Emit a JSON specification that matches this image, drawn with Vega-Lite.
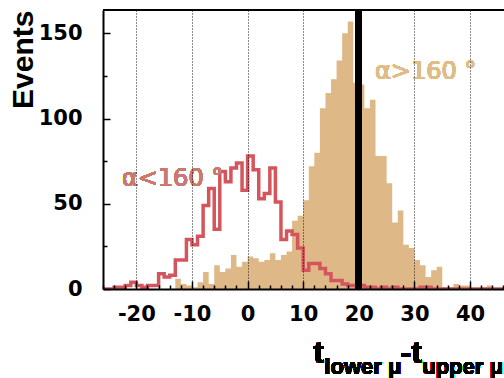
{
  "$schema": "https://vega.github.io/schema/vega-lite/v6.json",
  "width": 401,
  "height": 279,
  "autosize": {"type": "none"},
  "padding": {"left": 103, "top": 10, "right": 0, "bottom": 89},
  "background": "white",
  "config": {"view": {"stroke": null}},
  "resolve": {"axis": {"x": "independent", "y": "independent"}},
  "data": {"values": [
    {"t": -26, "tan": 0, "red": 0}, {"t": -25, "tan": 0, "red": 0}, {"t": -24, "tan": 0, "red": 1}, {"t": -23, "tan": 0, "red": 1},
    {"t": -22, "tan": 0, "red": 2}, {"t": -21, "tan": 0, "red": 4}, {"t": -20, "tan": 0, "red": 2}, {"t": -19, "tan": 0, "red": 1},
    {"t": -18, "tan": 0, "red": 2}, {"t": -17, "tan": 0, "red": 2}, {"t": -16, "tan": 0, "red": 9}, {"t": -15, "tan": 0, "red": 7},
    {"t": -14, "tan": 0, "red": 8}, {"t": -13, "tan": 6, "red": 17}, {"t": -12, "tan": 3, "red": 17}, {"t": -11, "tan": 2, "red": 29},
    {"t": -10, "tan": 1, "red": 26}, {"t": -9, "tan": 4, "red": 31}, {"t": -8, "tan": 10, "red": 49}, {"t": -7, "tan": 3, "red": 59},
    {"t": -6, "tan": 14, "red": 35}, {"t": -5, "tan": 10, "red": 69}, {"t": -4, "tan": 12, "red": 63}, {"t": -3, "tan": 20, "red": 71},
    {"t": -2, "tan": 13, "red": 74}, {"t": -1, "tan": 16, "red": 58}, {"t": 0, "tan": 19, "red": 78}, {"t": 1, "tan": 18, "red": 70},
    {"t": 2, "tan": 16, "red": 53}, {"t": 3, "tan": 17, "red": 56}, {"t": 4, "tan": 21, "red": 71}, {"t": 5, "tan": 17, "red": 51},
    {"t": 6, "tan": 20, "red": 29}, {"t": 7, "tan": 22, "red": 34}, {"t": 8, "tan": 40, "red": 32}, {"t": 9, "tan": 43, "red": 24},
    {"t": 10, "tan": 52, "red": 11}, {"t": 11, "tan": 72, "red": 15}, {"t": 12, "tan": 80, "red": 15}, {"t": 13, "tan": 106, "red": 12},
    {"t": 14, "tan": 115, "red": 9}, {"t": 15, "tan": 123, "red": 5}, {"t": 16, "tan": 134, "red": 5}, {"t": 17, "tan": 150, "red": 3},
    {"t": 18, "tan": 157, "red": 2}, {"t": 19, "tan": 121, "red": 2}, {"t": 20, "tan": 120, "red": 2}, {"t": 21, "tan": 106, "red": 1},
    {"t": 22, "tan": 111, "red": 1}, {"t": 23, "tan": 78, "red": 0}, {"t": 24, "tan": 78, "red": 1}, {"t": 25, "tan": 62, "red": 0},
    {"t": 26, "tan": 39, "red": 1}, {"t": 27, "tan": 46, "red": 0}, {"t": 28, "tan": 26, "red": 0}, {"t": 29, "tan": 24, "red": 0},
    {"t": 30, "tan": 17, "red": 0}, {"t": 31, "tan": 14, "red": 1}, {"t": 32, "tan": 7, "red": 1}, {"t": 33, "tan": 11, "red": 0},
    {"t": 34, "tan": 13, "red": 0}, {"t": 35, "tan": 1, "red": 0}, {"t": 36, "tan": 1, "red": 0}, {"t": 37, "tan": 3, "red": 0},
    {"t": 38, "tan": 2, "red": 0}, {"t": 39, "tan": 2, "red": 0}, {"t": 40, "tan": 0, "red": 0}, {"t": 41, "tan": 0, "red": 0},
    {"t": 42, "tan": 1, "red": 0}, {"t": 43, "tan": 2, "red": 0}, {"t": 44, "tan": 0, "red": 0}, {"t": 45, "tan": 0, "red": 0},
    {"t": 46, "tan": 0, "red": 0}
  ]},
  "layer": [
    {
      "mark": {"type": "area", "interpolate": "step-after", "color": "#deb887", "clip": true},
      "encoding": {
        "x": {"field": "t", "type": "quantitative",
          "scale": {"domain": [-26, 46.1], "nice": false, "zero": false},
          "axis": {"orient": "bottom", "title": null, "zindex": 1,
            "values": [-26,-24,-22,-20,-18,-16,-14,-12,-10,-8,-6,-4,-2,0,2,4,6,8,10,12,14,16,18,20,22,24,26,28,30,32,34,36,38,40,42,44,46],
            "labelExpr": "datum.value % 10 === 0 ? '' + datum.value : ''",
            "tickSize": {"condition": {"test": "datum.value % 10 === 0", "value": -8}, "value": -4},
            "tickColor": "black", "tickWidth": 1.5,
            "domainColor": "black", "domainWidth": 2,
            "grid": true, "gridColor": "black", "gridDash": [1, 2], "gridWidth": 1,
            "gridOpacity": {"condition": {"test": "datum.value % 10 === 0", "value": 0.9}, "value": 0},
            "labelFont": "DejaVu Sans", "labelFontWeight": "bold", "labelFontSize": 21, "labelColor": "black",
            "labelPadding": 22, "labelBaseline": "top", "labelFlush": false, "labelOverlap": false}},
        "y": {"field": "tan", "type": "quantitative",
          "scale": {"domain": [0, 163.7], "nice": false},
          "axis": {"orient": "left", "zindex": 1, "values": [0, 25, 50, 75, 100, 125, 150],
            "labelExpr": "datum.value % 50 === 0 ? '' + datum.value : ''",
            "tickSize": {"condition": {"test": "datum.value % 50 === 0", "value": -7}, "value": -4},
            "tickColor": "black", "tickWidth": 1.5,
            "domainColor": "black", "domainWidth": 2, "grid": false,
            "labelFont": "DejaVu Sans", "labelFontWeight": "bold", "labelFontSize": 21, "labelColor": "black",
            "labelPadding": 28, "labelFlush": false, "labelOverlap": false,
            "title": "Events", "titleFont": "Liberation Sans", "titleFontSize": 30, "titleFontWeight": "bold",
            "titleColor": "black", "titleAngle": -90, "titleAlign": "right", "titleBaseline": "middle",
            "titleX": -80, "titleY": 0}}
      }
    },
    {
      "mark": {"type": "line", "interpolate": "step-after", "color": "#d4565c", "strokeWidth": 3.5, "clip": true},
      "encoding": {
        "x": {"field": "t", "type": "quantitative", "axis": null},
        "y": {"field": "red", "type": "quantitative", "axis": null}
      }
    },
    {
      "mark": {"type": "rule", "color": "black", "strokeWidth": 6},
      "encoding": {"x": {"datum": 20, "type": "quantitative", "axis": null}}
    },
    {
      "mark": {"type": "rule", "color": "black", "strokeWidth": 1},
      "encoding": {"y": {"datum": 163.7, "type": "quantitative", "axis": null}}
    },
    {
      "mark": {"type": "text", "text": "α<160 °", "font": "DejaVu Sans", "fontSize": 24, "color": "#cc7872", "align": "left", "baseline": "middle"},
      "encoding": {"x": {"datum": -22.6, "type": "quantitative", "axis": null}, "y": {"datum": 64.5, "type": "quantitative", "axis": null}}
    },
    {
      "mark": {"type": "text", "text": "α>160 °", "font": "DejaVu Sans", "fontSize": 24, "color": "#e0bc86", "align": "left", "baseline": "middle"},
      "encoding": {"x": {"datum": 22.9, "type": "quantitative", "axis": null}, "y": {"datum": 127.3, "type": "quantitative", "axis": null}}
    },
    {
      "mark": {"type": "text", "text": "t", "font": "Liberation Sans", "fontWeight": "bold", "fontSize": 32, "color": "black", "align": "left", "baseline": "alphabetic"},
      "encoding": {"x": {"datum": 11.8, "type": "quantitative", "axis": null}, "y": {"datum": -43.4, "type": "quantitative", "axis": null}}
    },
    {
      "mark": {"type": "text", "text": "lower μ", "font": "Liberation Sans", "fontWeight": "bold", "fontSize": 22, "color": "black", "align": "left", "baseline": "alphabetic"},
      "encoding": {"x": {"datum": 13.8, "type": "quantitative", "axis": null}, "y": {"datum": -49.8, "type": "quantitative", "axis": null}}
    },
    {
      "mark": {"type": "text", "text": "-t", "font": "Liberation Sans", "fontWeight": "bold", "fontSize": 32, "color": "black", "align": "left", "baseline": "alphabetic"},
      "encoding": {"x": {"datum": 27.5, "type": "quantitative", "axis": null}, "y": {"datum": -43.4, "type": "quantitative", "axis": null}}
    },
    {
      "mark": {"type": "text", "text": "upper μ", "font": "Liberation Sans", "fontWeight": "bold", "fontSize": 22, "color": "black", "align": "right", "baseline": "alphabetic"},
      "encoding": {"x": {"datum": 45.9, "type": "quantitative", "axis": null}, "y": {"datum": -49.8, "type": "quantitative", "axis": null}}
    }
  ]
}
